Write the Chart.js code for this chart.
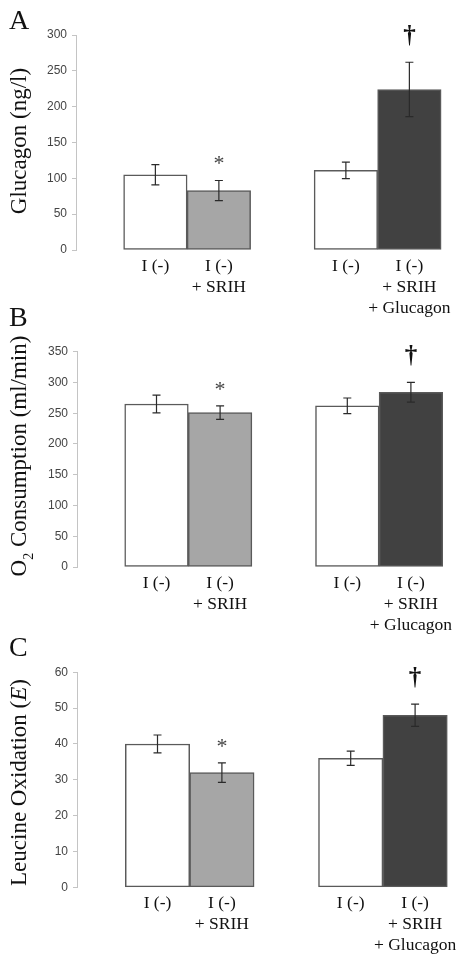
<!DOCTYPE html>
<html>
<head>
<meta charset="utf-8">
<script src="https://cdn.jsdelivr.net/npm/chart.js@4.4.1/dist/chart.umd.min.js"></script>
<style>
html, body { margin: 0; padding: 0; background: #fff; }
body { width: 465px; height: 963px; position: relative; overflow: hidden; }
canvas { position: absolute; left: 0; }
</style>
</head>
<body>
<canvas id="chartA" width="465" height="320" style="top:0"></canvas>
<canvas id="chartB" width="465" height="340" style="top:300px"></canvas>
<canvas id="chartC" width="465" height="343" style="top:620px"></canvas>
<script>
// bar positions on the x axis (gap at 3 between the two pairs)
const groupPositions = [1, 2, 4, 5];
const xLabels = [['I (-)'], ['I (-)', '+ SRIH'], ['I (-)'], ['I (-)', '+ SRIH', '+ Glucagon']];
const barFills = ['#ffffff', '#a6a6a6', '#ffffff', '#414141'];
const significance = ['', '*', '', '†'];

// A - glucagon
const glucagonMeans = [105, 83, 111, 224];
const glucagonErrors = [14, 14, 11.5, 38];
// B - O2 consumption
const o2Means = [265, 251, 262, 284];
const o2Errors = [14.5, 11, 12.7, 16];
// C - leucine oxidation
const leucineMeans = [40, 32, 36, 48];
const leucineErrors = [2.5, 2.7, 2, 3.1];

const serif = 'Liberation Serif';

// per canvas extras (kept out of chart options so the resolver leaves them alone)
const panels = {};

const panelDecor = {
	id: 'panelDecor',
	afterDatasetsDraw(chart) {
		const p = panels[chart.canvas.id];
		const ctx = chart.ctx;
		const xs = chart.scales.x, ys = chart.scales.y;
		ctx.save();
		ctx.strokeStyle = '#2a2a2a';
		ctx.lineWidth = 1.2;
		p.means.forEach((m, i) => {
			const px = xs.getPixelForValue(groupPositions[i]);
			const top = ys.getPixelForValue(m + p.errors[i]);
			const bot = ys.getPixelForValue(m - p.errors[i]);
			ctx.beginPath();
			ctx.moveTo(px, top); ctx.lineTo(px, bot);
			ctx.moveTo(px - 4, top); ctx.lineTo(px + 4, top);
			ctx.moveTo(px - 4, bot); ctx.lineTo(px + 4, bot);
			ctx.stroke();

			// significance marks
			ctx.textAlign = 'center';
			ctx.textBaseline = 'alphabetic';
			if (significance[i] === '*') {
				ctx.fillStyle = '#444';
				ctx.font = '22px ' + serif;
				ctx.fillText('*', px, top - 10);
			} else if (significance[i] === '†') {
				ctx.fillStyle = '#111';
				ctx.font = 'bold 25px ' + serif;
				ctx.fillText('†', px, top - 19);
			}
		});
		ctx.restore();

		// rotated y title, drawn in parts (subscript / italic)
		ctx.save();
		ctx.fillStyle = '#111';
		ctx.textAlign = 'left';
		ctx.textBaseline = 'alphabetic';
		ctx.translate(26, p.titleY);
		ctx.rotate(-Math.PI / 2);
		const fontOf = part => (part.italic ? 'italic ' : '') + (part.size || 23) + 'px "' + serif + '"';
		let total = 0;
		p.title.forEach(part => {
			ctx.font = fontOf(part);
			total += ctx.measureText(part.t).width;
		});
		let cx = -total / 2;
		p.title.forEach(part => {
			ctx.font = fontOf(part);
			ctx.fillText(part.t, cx, part.shift || 0);
			cx += ctx.measureText(part.t).width;
		});
		ctx.restore();

		// panel letter
		ctx.save();
		ctx.fillStyle = '#111';
		ctx.font = '28px ' + serif;
		ctx.textAlign = 'left';
		ctx.textBaseline = 'alphabetic';
		ctx.fillText(p.letter, 9, p.letterY);
		ctx.restore();
	}
};

function makePanel(id, means, errors, cfg) {
	panels[id] = {
		means: means,
		errors: errors,
		title: cfg.title,
		titleY: cfg.titleY,
		letter: cfg.letter,
		letterY: cfg.letterY
	};
	return new Chart(document.getElementById(id), {
		type: 'bar',
		data: {
			datasets: [{
				data: groupPositions.map((x, i) => ({ x: x, y: means[i] })),
				backgroundColor: barFills,
				borderColor: '#5a5a5a',
				borderWidth: 1.5,
				borderSkipped: false,
				categoryPercentage: 1,
				barPercentage: 1
			}]
		},
		plugins: [panelDecor],
		options: {
			responsive: false,
			animation: false,
			events: [],
			layout: { padding: { left: 0, right: cfg.padRight, top: cfg.padTop, bottom: 0 } },
			plugins: {
				legend: { display: false },
				tooltip: { enabled: false }
			},
			scales: {
				x: {
					type: 'linear',
					min: -0.25,
					max: 5.75,
					offset: false,
					grid: { display: false },
					border: { display: false },
					afterBuildTicks: s => { s.ticks = groupPositions.map(v => ({ value: v })); },
					afterFit: s => { s.height = cfg.xHeight; },
					ticks: {
						autoSkip: false,
						maxRotation: 0,
						minRotation: 0,
						padding: -2,
						color: '#111',
						font: { family: serif, size: 17.5, lineHeight: 1.2 },
						callback: v => xLabels[groupPositions.indexOf(v)]
					}
				},
				y: {
					min: 0,
					max: cfg.max,
					afterFit: s => { s.width = cfg.axisX; },
					grid: { drawOnChartArea: false, drawTicks: true, tickLength: 4, color: '#c4c4c4' },
					border: { display: true, color: '#c4c4c4', width: 1 },
					ticks: {
						stepSize: cfg.step,
						padding: 5,
						color: '#444',
						font: { family: 'Liberation Sans', size: 12 }
					}
				}
			}
		}
	});
}

makePanel('chartA', glucagonMeans, glucagonErrors, {
	max: 300, step: 50, padTop: 35, xHeight: 70, axisX: 76, padRight: 8,
	title: [{ t: 'Glucagon (ng/l)' }], titleY: 141, letter: 'A', letterY: 29
});
makePanel('chartB', o2Means, o2Errors, {
	max: 350, step: 50, padTop: 51.7, xHeight: 73, axisX: 77, padRight: 6.4,
	title: [{ t: 'O' }, { t: '2', size: 14, shift: 7 }, { t: ' Consumption (ml/min)' }],
	titleY: 156, letter: 'B', letterY: 26
});
makePanel('chartC', leucineMeans, leucineErrors, {
	max: 60, step: 10, padTop: 52.3, xHeight: 75.7, axisX: 77, padRight: 1.6,
	title: [{ t: 'Leucine Oxidation (' }, { t: 'E', italic: true }, { t: ')' }],
	titleY: 162.5, letter: 'C', letterY: 36
});
</script>
</body>
</html>
